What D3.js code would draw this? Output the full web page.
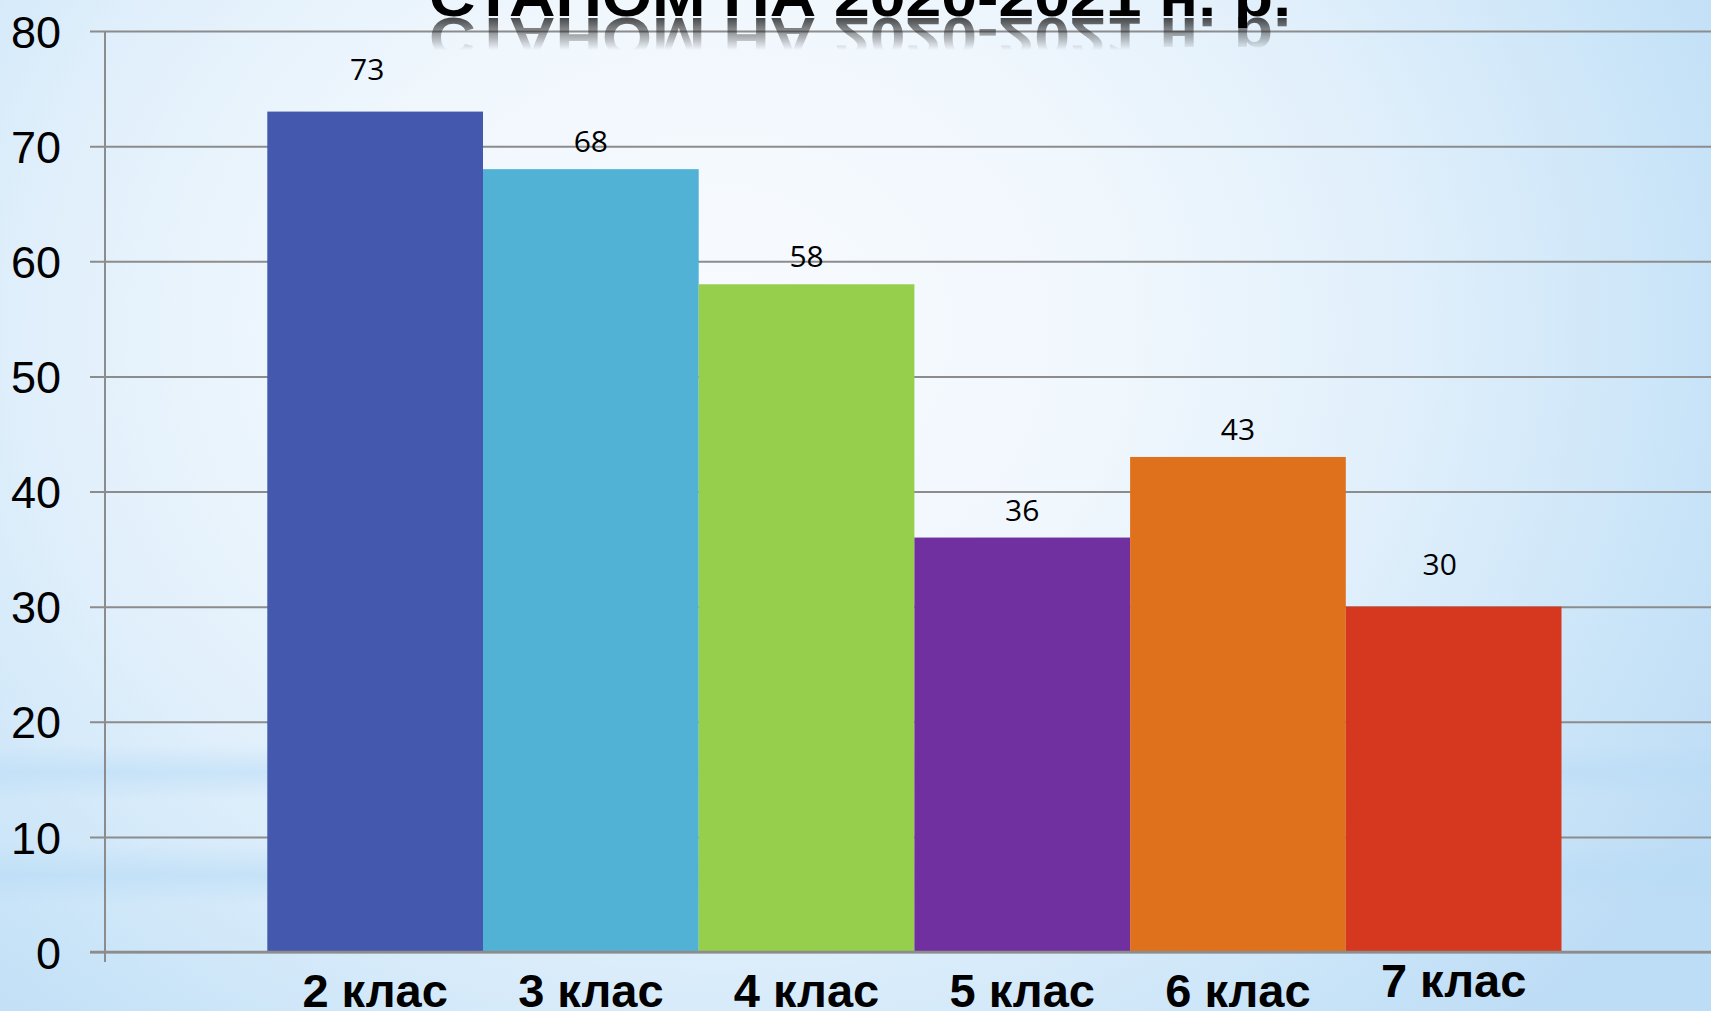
<!DOCTYPE html>
<html>
<head>
<meta charset="utf-8">
<script src="https://cdn.jsdelivr.net/npm/d3@7"></script>
<style>
html,body{margin:0;padding:0;overflow:hidden;background:#dcedfa;}
svg{display:block;}
</style>
</head>
<body>
<svg id="chart" width="1711" height="1011"></svg>
<script>
// ---- data ----
const categories = ["2 клас", "3 клас", "4 клас", "5 клас", "6 клас", "7 клас"];
const values = [73, 68, 58, 36, 43, 30];
const barColors = ["#4459AE", "#52B2D6", "#96CF4B", "#7030A0", "#E0711C", "#D5381F"];
const yTicks = [0, 10, 20, 30, 40, 50, 60, 70, 80];
const titleText = "СТАНОМ НА 2020-2021 н. р.";

const W = 1711, H = 1011;
const svg = d3.select("#chart");
const defs = svg.append("defs");

// background
const rg = defs.append("radialGradient").attr("id", "bg")
  .attr("gradientUnits", "userSpaceOnUse")
  .attr("cx", 720).attr("cy", 330).attr("r", 1150)
  .attr("gradientTransform", "translate(720,330) scale(1,0.85) translate(-720,-330)");
[[0, "#f8fbff"], [0.35, "#f0f7fd"], [0.6, "#e0effb"], [0.85, "#c9e4f8"], [1, "#bddcf5"]]
  .forEach(([o, c]) => rg.append("stop").attr("offset", o).attr("stop-color", c));
svg.append("rect").attr("width", W).attr("height", H).attr("fill", "url(#bg)");

function band(id, y0, y1, op) {
  const g = defs.append("linearGradient").attr("id", id).attr("x1", 0).attr("y1", 0).attr("x2", 0).attr("y2", 1);
  g.append("stop").attr("offset", 0).attr("stop-color", "#b9dcf6").attr("stop-opacity", 0);
  g.append("stop").attr("offset", 0.5).attr("stop-color", "#b9dcf6").attr("stop-opacity", op);
  g.append("stop").attr("offset", 1).attr("stop-color", "#b9dcf6").attr("stop-opacity", 0);
  svg.append("rect").attr("x", 0).attr("y", y0).attr("width", W).attr("height", y1 - y0).attr("fill", `url(#${id})`);
}
band("b1", 745, 800, 0.55);
band("b2", 845, 905, 0.6);

// scales
const x = d3.scaleBand().domain(categories).range([267.3, 1561.5]).padding(0);
const y = d3.scaleLinear().domain([0, 80]).range([952, 31]);
const axisX = 105;

// gridlines + y axis
const yAxis = d3.axisLeft(y).tickValues(yTicks).tickSize(-(W - 90)).tickPadding(44).tickFormat(d3.format("d"));
const gy = svg.append("g").attr("transform", `translate(90,0)`).call(yAxis);
gy.select(".domain").remove();
gy.selectAll(".tick line").attr("stroke", "#8c8c8c").attr("stroke-width", 2);
gy.selectAll(".tick text")
  .attr("font-family", "'Liberation Sans', Arial, sans-serif")
  .attr("font-size", 45).attr("fill", "#000").attr("x", -29).attr("dy", "0.36em");
svg.append("line").attr("x1", axisX).attr("x2", axisX).attr("y1", y(80)).attr("y2", y(0) + 10)
  .attr("stroke", "#8c8c8c").attr("stroke-width", 2);

// bars
svg.append("g").selectAll("rect").data(categories).join("rect")
  .attr("x", d => x(d)).attr("width", x.bandwidth())
  .attr("y", (d, i) => y(values[i])).attr("height", (d, i) => y(0) - y(values[i]))
  .attr("fill", (d, i) => barColors[i]);

// baseline
svg.append("line").attr("x1", 90).attr("x2", W).attr("y1", y(0)).attr("y2", y(0))
  .attr("stroke", "#8c8c8c").attr("stroke-width", 2.5);

// value labels (a couple were nudged upward in the original)
const labelNudge = { "2 клас": [-8, -32], "7 клас": [-14, -32] };
svg.append("g").selectAll("text").data(categories).join("text")
  .attr("x", d => x(d) + x.bandwidth() / 2 + (labelNudge[d] ? labelNudge[d][0] : 0))
  .attr("y", (d, i) => y(values[i]) + (labelNudge[d] ? labelNudge[d][1] : -17))
  .attr("text-anchor", "middle")
  .attr("font-family", "'Open Sans', 'Liberation Sans', sans-serif")
  .attr("font-size", 30).attr("fill", "#000")
  .text((d, i) => values[i]);

// category labels
svg.append("g").selectAll("text").data(categories).join("text")
  .attr("x", d => x(d) + x.bandwidth() / 2)
  .attr("y", (d, i) => i === categories.length - 1 ? 997 : 1007)
  .attr("text-anchor", "middle")
  .attr("font-family", "'Liberation Sans', Arial, sans-serif")
  .attr("font-weight", "bold").attr("font-size", 47).attr("fill", "#000")
  .text(d => d);

// title with reflection (cut at top edge)
const mg = defs.append("linearGradient").attr("id", "fade")
  .attr("gradientUnits", "userSpaceOnUse").attr("x1", 0).attr("x2", 0).attr("y1", 17).attr("y2", 50);
mg.append("stop").attr("offset", 0).attr("stop-color", "#fff").attr("stop-opacity", 0.85);
mg.append("stop").attr("offset", 1).attr("stop-color", "#fff").attr("stop-opacity", 0);
defs.append("mask").attr("id", "reflMask").attr("maskUnits", "userSpaceOnUse")
  .attr("x", 0).attr("y", 0).attr("width", W).attr("height", 80)
  .append("rect").attr("x", 0).attr("y", 17).attr("width", W).attr("height", 34).attr("fill", "url(#fade)");

const titleBase = 16;
function drawTitle(g) {
  return g.append("text").attr("x", 860).attr("y", titleBase).attr("text-anchor", "middle")
    .attr("font-family", "'Liberation Sans', Arial, sans-serif").attr("font-weight", "bold")
    .attr("font-size", 56).attr("textLength", 862).attr("lengthAdjust", "spacingAndGlyphs")
    .attr("fill", "#000").text(titleText);
}
const refl = svg.append("g").attr("mask", "url(#reflMask)")
  .append("g").attr("transform", `translate(0,${2 * titleBase + 2}) scale(1,-1)`);
drawTitle(refl).attr("fill", "#222");
drawTitle(svg.append("g"));
</script>
</body>
</html>
